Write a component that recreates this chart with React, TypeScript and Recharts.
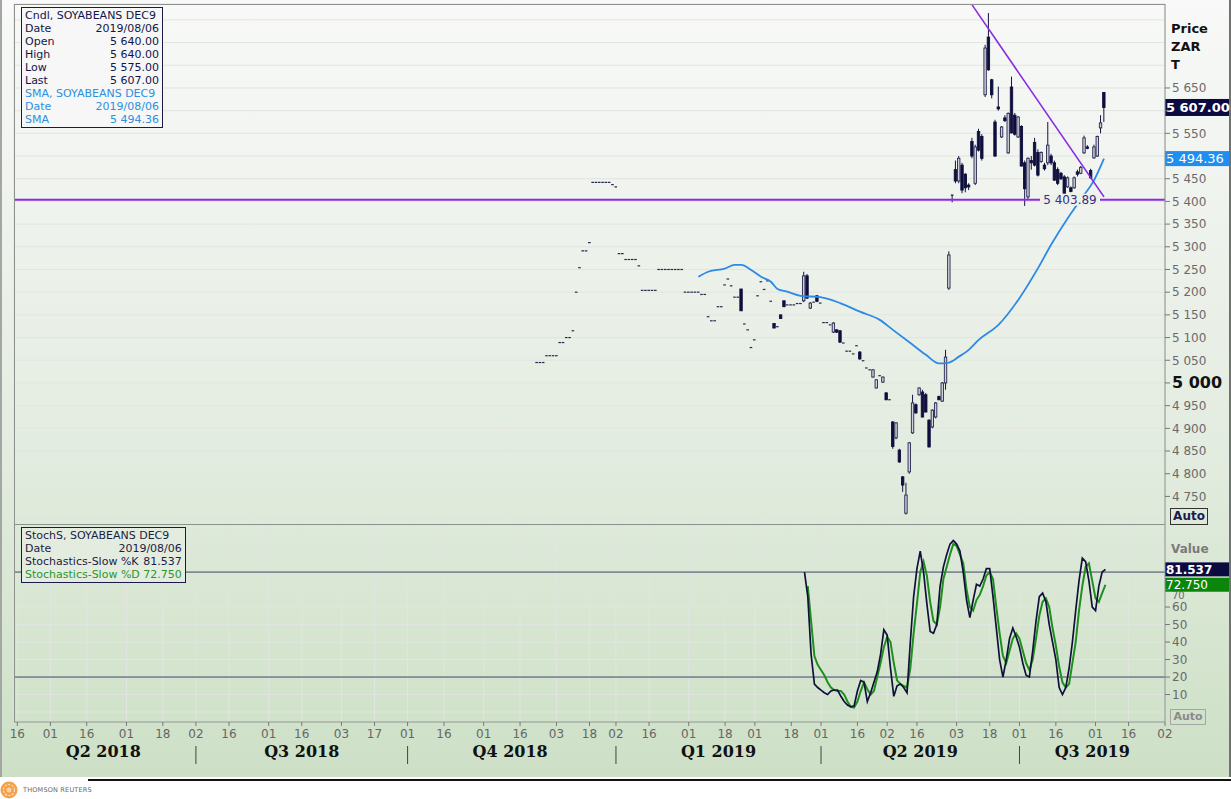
import { ComposedChart, Bar, Line, XAxis, YAxis, CartesianGrid, ReferenceLine } from 'recharts';

// trading calendar (weekdays minus exchange holidays)
const FIRST_DAY = '2018-04-13';
const LAST_DAY = '2019-09-02';
const NON_TRADING = [
  '2018-04-27', '2018-08-09', '2018-12-17', '2018-12-25', '2018-12-26', '2019-01-01',
  '2019-03-21', '2019-04-19', '2019-04-22', '2019-05-01', '2019-05-08', '2019-06-17', '2019-08-09',
];

const DAY_TICKS = [
  '2018-04-16', '2018-05-01', '2018-05-16', '2018-06-01', '2018-06-18',
  '2018-07-02', '2018-07-16', '2018-08-01', '2018-08-16', '2018-09-03', '2018-09-17',
  '2018-10-01', '2018-10-16', '2018-11-01', '2018-11-16', '2018-12-03', '2018-12-18',
  '2019-01-02', '2019-01-16', '2019-02-01', '2019-02-18', '2019-03-01', '2019-03-18',
  '2019-04-01', '2019-04-16', '2019-05-02', '2019-05-16', '2019-06-03', '2019-06-18',
  '2019-07-01', '2019-07-16', '2019-08-01', '2019-08-16', '2019-09-02',
];
const QUARTER_STARTS = ['2018-07-02', '2018-10-01', '2019-01-02', '2019-04-01', '2019-07-01'];
const QUARTER_LABELS = ['Q2 2018', 'Q3 2018', 'Q4 2018', 'Q1 2019', 'Q2 2019', 'Q3 2019'];

const PRICE_TICKS = [4700, 4750, 4800, 4850, 4900, 4950, 5000, 5050, 5100, 5150, 5200, 5250, 5300, 5350, 5400, 5450, 5500, 5550, 5600, 5650, 5700, 5750, 5800];
const STOCH_TICKS = [0, 10, 20, 30, 40, 50, 60, 70, 80, 90, 100];

// candles: one entry per trading day from CANDLE_START.
// a single number = flat day (open = high = low = close), else [open, high, low, close]
const CANDLE_START = '2018-11-23';
type Candle = number | [number, number, number, number];
const candles: Candle[] = [
  5045, 5045, 5045, 5060, 5060, 5060, 5060, 5089, 5089, 5100, // 0
  5100, 5115, 5200, 5254, 5291, 5291, 5309, 5442, 5442, 5442, // 10
  5442, 5442, 5442, 5437, 5432, 5285, 5285, 5272, 5272, 5272, // 20
  5272, 5258, 5204, 5204, 5204, 5204, 5204, 5250, 5250, 5250, // 30
  5250, 5250, 5250, 5250, 5250, 5200, 5200, 5200, 5200, 5200, // 40
  5195, 5195, 5146, 5137, 5137, 5168, 5168, 5216, 5229, 5214, // 50
  5189, 5189, [5207, 5207, 5159, 5159], 5130, 5117, 5078, 5095, 5192, 5223, 5206, // 60
  5225, 5180, [5131, 5131, 5121, 5121], 5124, [5150, 5150, 5142, 5142], [5181, 5181, 5168, 5168], 5172, 5172, 5172, 5175, // 70
  5175, [5181, 5245, 5178, 5236], [5236, 5240, 5185, 5187], [5165, 5178, 5163, 5176], 5178, [5192, 5194, 5178, 5180], 5176, 5133, 5133, 5128, // 80
  [5112, 5134, 5110, 5132], [5117, 5118, 5110, 5112], [5115, 5116, 5088, 5090], 5088, 5070, 5070, 5064, 5082, [5068, 5070, 5051, 5053], 5049, // 90
  5033, 5029, [5013, 5030, 5012, 5029], [4989, 5008, 4988, 5007], 5016, [5002, 5014, 5000, 5013], [4978, 4980, 4962, 4963], 4963, [4914, 4916, 4855, 4860], [4879, 4914, 4876, 4912], // 100
  [4852, 4855, 4824, 4826], [4793, 4795, 4760, 4775], [4713, 4780, 4710, 4753], [4804, 4870, 4800, 4868], [4890, 4974, 4888, 4956], // 110
  [4952, 4955, 4932, 4934], [4974, 4990, 4972, 4989], [4980, 4985, 4924, 4925], [4974, 4978, 4935, 4936], [4918, 4920, 4858, 4859], // 115
  [4903, 4942, 4900, 4940], [4925, 4958, 4922, 4956], [4970, 4972, 4962, 4963], [4960, 5002, 4958, 5000], [5000, 5073, 4985, 5057], // 120
  [5209, 5290, 5205, 5282], [5414, 5414, 5398, 5414], [5470, 5490, 5440, 5445], [5445, 5500, 5440, 5495], [5480, 5485, 5418, 5425], // 125
  [5460, 5462, 5420, 5430], [5436, 5440, 5425, 5432], [5532, 5540, 5495, 5500], [5440, 5525, 5436, 5520], [5554, 5560, 5510, 5513], // 130
  [5543, 5548, 5490, 5495], [5635, 5745, 5630, 5738], [5762, 5815, 5688, 5690], [5668, 5670, 5627, 5635], [5575, 5580, 5498, 5500], // 135
  [5608, 5653, 5600, 5604], [5542, 5566, 5540, 5564], [5584, 5590, 5575, 5578], [5507, 5596, 5505, 5594], [5652, 5675, 5550, 5551], // 140
  [5590, 5595, 5545, 5548], [5542, 5588, 5540, 5586], [5565, 5568, 5477, 5478], [5485, 5490, 5390, 5428], [5410, 5497, 5405, 5495], // 145
  [5490, 5500, 5470, 5485], [5530, 5540, 5477, 5480], [5508, 5515, 5455, 5458], [5488, 5510, 5485, 5508], [5480, 5485, 5468, 5472], // 150
  [5485, 5575, 5480, 5524], [5500, 5505, 5480, 5485], [5485, 5490, 5445, 5447], [5470, 5475, 5436, 5440], [5462, 5465, 5447, 5450], // 155
  [5454, 5458, 5412, 5414], [5432, 5455, 5430, 5452], [5430, 5433, 5420, 5422], [5430, 5455, 5428, 5452], [5465, 5470, 5455, 5460], // 160
  [5462, 5478, 5460, 5475], [5507, 5545, 5505, 5540], [5520, 5524, 5515, 5517], [5468, 5472, 5450, 5452], [5496, 5525, 5494, 5520], // 165
  [5500, 5545, 5498, 5543], [5562, 5590, 5550, 5573], [5640, 5640, 5575, 5607], // 170
];

// SMA: [day offset from CANDLE_START, value]
const smaPoints: [number, number][] = [
  [49, 5234], [52, 5245], [57, 5252], [60, 5260], [62, 5260], [65, 5249], [68, 5234], [71, 5223],
  [73, 5207], [76, 5201], [80, 5192], [86, 5189], [92, 5176], [98, 5157], [104, 5139], [108, 5117],
  [114, 5084], [118, 5062], [122, 5043], [125, 5045], [128, 5058], [131, 5073], [134, 5095],
  [140, 5128], [146, 5183], [152, 5253], [156, 5305], [161, 5363], [165, 5405], [169, 5447], [172, 5494.36],
];

// slow stochastics, one value per day starting at offset STOCH_START
const STOCH_START = 81;
const pctK = [
  80, 66, 33, 16, 14, 12.5, 11, 10, 12, 12.6,
  12.6, 9, 6, 4, 3, 3.5, 12, 18, 17, 6,
  11, 17, 23, 33, 47, 44, 25, 9, 15, 16,
  14, 11, 40, 66, 82, 92, 80, 62, 46, 45,
  50, 72, 83, 90, 96, 98, 96, 92, 80, 64,
  54, 64, 73, 72, 76, 82, 82, 66, 48, 30,
  20, 30, 42, 48, 43, 37, 28, 21, 20, 35,
  52, 66, 68, 63, 50, 40, 30, 14, 10, 14,
  25, 40, 58, 75, 88, 86, 75, 60, 58, 72,
  80, 81.537,
];
const pctD = [
  null, 72, 52, 32, 27, 24, 21, 17, 14, 12.5,
  12, 12, 10, 6, 3, 2.5, 6, 12, 17, 13,
  10, 12, 20, 28, 37, 43, 40, 28, 18, 16,
  15, 14, 25, 45, 62, 80, 86, 78, 63, 52,
  50, 60, 76, 83, 90, 96, 95, 90, 85, 70,
  60, 58, 64, 67, 72, 78, 80, 76, 60, 45,
  32, 28, 35, 42, 45, 42, 35, 28, 24, 30,
  42, 55, 63, 65, 60, 48, 38, 26, 17, 14,
  16, 28, 40, 58, 72, 83, 85, 75, 65, 63,
  68, 72.75,
];

const SUPPORT = 5403.89;
const TREND: [number, number][] = [[132, 5833], [172, 5410]];

const buildDays = () => {
  const out: string[] = [];
  const d = new Date(FIRST_DAY + 'T00:00:00Z');
  const end = new Date(LAST_DAY + 'T00:00:00Z');
  while (d <= end) {
    const wd = d.getUTCDay();
    const s = d.toISOString().slice(0, 10);
    if (wd !== 0 && wd !== 6 && !NON_TRADING.includes(s)) out.push(s);
    d.setUTCDate(d.getUTCDate() + 1);
  }
  return out;
};

const days = buildDays();
const base = days.indexOf(CANDLE_START);
const smaMap = new Map(smaPoints);

const rows = days.map((date, i) => {
  const off = i - base;
  const row: any = { date };
  const c = off >= 0 ? candles[off] : undefined;
  if (c !== undefined) {
    const [o, h, l, cl] = typeof c === 'number' ? [c, c, c, c] : c;
    Object.assign(row, { o, h, l, c: cl, range: [l, h] });
  }
  if (smaMap.has(off)) row.sma = smaMap.get(off);
  const s = off - STOCH_START;
  if (s >= 0 && s < pctK.length) {
    row.k = pctK[s];
    row.d = pctD[s];
  }
  return row;
});

// quarter label sits in the middle of each quarter's visible span
const bounds = [0, ...QUARTER_STARTS.map((q) => days.indexOf(q)), days.length];
const quarterMid: Record<string, string> = {};
QUARTER_LABELS.forEach((lab, i) => {
  quarterMid[days[Math.round((bounds[i] + bounds[i + 1] - 1) / 2)]] = lab;
});
const QUARTER_TICKS = [...QUARTER_STARTS, ...Object.keys(quarterMid)];

const fmtPrice = (v: number) => {
  const [int, dec] = v.toFixed(2).split('.');
  const n = Number(int);
  const s = `${Math.floor(n / 1000)} ${String(n % 1000).padStart(3, '0')}`;
  return { s, dec };
};

const lastRow = rows[base + candles.length - 1];

const CandleShape = (props: any) => {
  const { x, y, width, height, payload } = props;
  if (!payload || payload.o == null || !isFinite(y)) return null;
  const cx = x + width / 2;
  const { o, h, l, c } = payload;
  if (h === l) {
    return <line x1={cx - 1.3} x2={cx + 1.3} y1={y} y2={y} stroke="#2a2a4c" strokeWidth={1.2} />;
  }
  const py = (v: number) => y + ((h - v) / (h - l)) * height;
  const top = py(Math.max(o, c));
  const bot = py(Math.min(o, c));
  const up = c > o;
  return (
    <g>
      <line x1={cx} x2={cx} y1={y} y2={y + height} stroke="#15153f" strokeWidth={1} />
      {bot - top < 1 ? (
        <line x1={cx - 1.3} x2={cx + 1.3} y1={top} y2={top} stroke="#15153f" strokeWidth={1.2} />
      ) : (
        <rect
          x={cx - 1.2}
          y={top}
          width={2.4}
          height={bot - top}
          fill={up ? '#cfd1d8' : '#0f0f3d'}
          stroke={up ? '#25254f' : '#0f0f3d'}
          strokeWidth={0.9}
        />
      )}
    </g>
  );
};

// labels hidden behind the last-value boxes are not drawn
const PriceTick = ({ x, y, payload }: any) => {
  const v = payload.value;
  if (v < 4750 || v > 5650) return null;
  const covered = Math.abs(v - lastRow.c) < 15 || Math.abs(v - lastRow.sma) < 15;
  const big = v === 5000;
  return (
    <g>
      <line x1={x - 7} x2={x - 2} y1={y} y2={y} stroke="#777" />
      {!covered && (
        <text
          x={x}
          y={y}
          dy={big ? 5.5 : 4.3}
          fontSize={big ? 16 : 12}
          fontWeight={big ? 'bold' : 'normal'}
          fill={big ? '#111' : '#6a6a6a'}
          fontFamily="DejaVu Sans"
        >
          {fmtPrice(v).s}
        </text>
      )}
    </g>
  );
};

const StochTick = ({ x, y, payload }: any) => {
  const v = payload.value;
  if (v < 10 || v > 70) return null;
  const squeezed = v === 70;
  return (
    <g>
      <line x1={x - 7} x2={x - 2} y1={y} y2={y} stroke="#777" />
      <text x={x} y={y + (squeezed ? 6 : 0)} dy={squeezed ? 3.6 : 4.3} fontSize={squeezed ? 10 : 12} fill="#6a6a6a" fontFamily="DejaVu Sans">
        {v}
      </text>
    </g>
  );
};

const DayTick = ({ x, y, payload }: any) => (
  <text x={x} y={y} dy="0.75em" textAnchor="middle" fontSize={12} fill="#666" fontFamily="DejaVu Sans">
    {String(payload.value).slice(8, 10)}
  </text>
);

const QuarterTick = ({ x, y, payload }: any) => {
  const v = payload.value;
  if (QUARTER_STARTS.includes(v)) {
    return <line x1={x} x2={x} y1={y + 2} y2={y + 20} stroke="#444" strokeWidth={1} />;
  }
  return (
    <text x={x} y={y + 13} textAnchor="middle" fontSize={16} fontWeight="bold" fill="#111" fontFamily="DejaVu Serif">
      {quarterMid[v]}
    </text>
  );
};

const AxisBox = ({ viewBox, text, bg, bold, h, fs }: any) => {
  if (!viewBox) return null;
  const x0 = viewBox.x + viewBox.width;
  return (
    <g>
      <rect x={x0} y={viewBox.y - h / 2} width={64} height={h} fill={bg} />
      <text
        x={x0 + 1}
        y={viewBox.y + fs * 0.37}
        fill="#fff"
        fontSize={fs}
        fontWeight={bold ? 'bold' : 'normal'}
        fontFamily="DejaVu Sans"
      >
        {text}
      </text>
    </g>
  );
};

const SupportLabel = ({ viewBox }: any) => {
  if (!viewBox) return null;
  const right = viewBox.x + viewBox.width;
  const p = fmtPrice(SUPPORT);
  return (
    <g>
      <rect x={right - 125} y={viewBox.y - 6} width={60} height={12} fill="#edf1ea" />
      <text x={right - 95} y={viewBox.y + 4.5} textAnchor="middle" fontSize={12} fill="#3a2d8c" fontFamily="DejaVu Sans">
        {`${p.s}.${p.dec}`}
      </text>
    </g>
  );
};

const GRID = '#e1e5df';
const FRAME = '#8c918c';

const legendRow = (label: string, value: string, color: string) => (
  <div key={label + value} style={{ display: 'flex', justifyContent: 'space-between', color }}>
    <span>{label}</span>
    <span>{value}</span>
  </div>
);

export default function App() {
  const lastClose = fmtPrice(lastRow.c);
  const lastSma = fmtPrice(lastRow.sma);
  return (
    <div style={{ position: 'relative', width: 1231, height: 799, background: '#fff', overflow: 'hidden', fontFamily: 'DejaVu Sans' }}>
      <style>{'body{margin:0}'}</style>
      {/* frame background */}
      <div
        style={{
          position: 'absolute',
          left: 0,
          top: 0,
          width: 1227,
          height: 777,
          borderLeft: '2px solid #a3a7a3',
          borderRight: '2px solid #6f726f',
          background: 'linear-gradient(to bottom, #f8f9f8 0%, #eef2ec 30%, #e3ece0 58%, #d8e6d2 78%, #cde0c6 100%)',
        }}
      />
      <div style={{ position: 'absolute', left: 88, top: 779, width: 1143, height: 2, background: '#111' }} />

      {/* price panel */}
      <div style={{ position: 'absolute', left: 0, top: 0 }}>
        <ComposedChart width={1231} height={526} data={rows} margin={{ top: 4, right: 0, bottom: 1, left: 14 }} barCategoryGap={0} barGap={0}>
          <CartesianGrid stroke={GRID} />
          <XAxis dataKey="date" ticks={DAY_TICKS} interval={0} height={0} tick={false} axisLine={false} tickLine={false} />
          <YAxis
            orientation="right"
            width={66}
            domain={[4687, 5835]}
            allowDataOverflow
            ticks={PRICE_TICKS}
            interval={0}
            tick={<PriceTick />}
            tickLine={false}
            tickSize={5}
            tickMargin={2}
            axisLine={{ stroke: FRAME }}
          />
          <Bar dataKey="range" shape={<CandleShape />} isAnimationActive={false} />
          <Line dataKey="sma" type="monotone" connectNulls dot={false} stroke="#2a8ae6" strokeWidth={1.8} isAnimationActive={false} />
          <ReferenceLine y={SUPPORT} stroke="#8a2be2" strokeWidth={2} label={<SupportLabel />} />
          <ReferenceLine
            segment={TREND.map(([off, y]) => ({ x: days[base + off], y }))}
            stroke="#8a2be2"
            strokeWidth={1.6}
          />
          <ReferenceLine y={lastRow.sma} stroke="none" label={<AxisBox text={`${lastSma.s}.${lastSma.dec}`} bg="#1e8ff0" h={15} fs={13} />} />
          <ReferenceLine y={lastRow.c} stroke="none" label={<AxisBox text={`${lastClose.s}.${lastClose.dec}`} bg="#0b0b40" bold h={17} fs={13} />} />
        </ComposedChart>
      </div>

      {/* stochastics panel with date axis */}
      <div style={{ position: 'absolute', left: 0, top: 525 }}>
        <ComposedChart width={1231} height={254} data={rows} margin={{ top: 0, right: 0, bottom: 0, left: 14 }}>
          <CartesianGrid stroke={GRID} xAxisId="day" />
          <XAxis
            xAxisId="day"
            dataKey="date"
            ticks={DAY_TICKS}
            interval={0}
            height={22}
            tick={<DayTick />}
            tickSize={4}
            tickMargin={3}
            tickLine={{ stroke: '#777' }}
            axisLine={{ stroke: FRAME }}
          />
          <XAxis
            xAxisId="q"
            dataKey="date"
            ticks={QUARTER_TICKS}
            interval={0}
            height={35}
            tick={<QuarterTick />}
            tickSize={0}
            tickMargin={0}
            tickLine={false}
            axisLine={false}
          />
          <YAxis
            orientation="right"
            width={66}
            domain={[-5.7, 106.9]}
            allowDataOverflow
            ticks={STOCH_TICKS}
            interval={0}
            tick={<StochTick />}
            tickLine={false}
            tickSize={5}
            tickMargin={2}
            axisLine={{ stroke: FRAME }}
          />
          <ReferenceLine xAxisId="day" y={80} stroke="#3b4466" strokeWidth={1} />
          <ReferenceLine xAxisId="day" y={20} stroke="#3b4466" strokeWidth={1} />
          <Line xAxisId="q" dataKey="d" dot={false} stroke="#1f8f1f" strokeWidth={2} isAnimationActive={false} />
          <Line xAxisId="day" dataKey="k" dot={false} stroke="#10103a" strokeWidth={1.7} isAnimationActive={false} />
          <ReferenceLine xAxisId="day" y={lastRow.d} stroke="none" label={<AxisBox text={lastRow.d.toFixed(3)} bg="#0a870a" h={14} fs={12} />} />
          <ReferenceLine xAxisId="day" y={lastRow.k} stroke="none" label={<AxisBox text={lastRow.k.toFixed(3)} bg="#0b0b40" bold h={14} fs={12} />} />
        </ComposedChart>
      </div>

      {/* panel borders */}
      <div style={{ position: 'absolute', left: 14, top: 4, width: 1151, height: 521, border: `1px solid ${FRAME}`, borderRight: 'none', boxSizing: 'border-box', pointerEvents: 'none' }} />
      <div style={{ position: 'absolute', left: 14, top: 525, width: 1, height: 197, background: FRAME }} />

      {/* price legend */}
      <div
        style={{
          position: 'absolute',
          left: 21,
          top: 7,
          width: 134,
          padding: '1px 3px',
          border: '1px solid #1a1a4a',
          background: '#f6f7f6',
          fontSize: 11,
          lineHeight: '13px',
        }}
      >
        {legendRow('Cndl, SOYABEANS DEC9', '', '#15154a')}
        {legendRow('Date', '2019/08/06', '#15154a')}
        {legendRow('Open', '5 640.00', '#15154a')}
        {legendRow('High', '5 640.00', '#15154a')}
        {legendRow('Low', '5 575.00', '#15154a')}
        {legendRow('Last', '5 607.00', '#15154a')}
        {legendRow('SMA, SOYABEANS DEC9', '', '#2e8fe0')}
        {legendRow('Date', '2019/08/06', '#2e8fe0')}
        {legendRow('SMA', '5 494.36', '#2e8fe0')}
      </div>

      {/* stochastics legend */}
      <div
        style={{
          position: 'absolute',
          left: 21,
          top: 527,
          padding: '1px 3px',
          border: '1px solid #1a1a4a',
          background: '#e4ece0',
          fontSize: 11,
          lineHeight: '13px',
          whiteSpace: 'nowrap',
        }}
      >
        {legendRow('StochS, SOYABEANS DEC9', '', '#1d1d3e')}
        {legendRow('Date', '2019/08/06', '#1d1d3e')}
        {legendRow('Stochastics-Slow %K', '\u00a081.537', '#1d1d3e')}
        {legendRow('Stochastics-Slow %D', '\u00a072.750', '#2a962a')}
      </div>

      {/* axis headers */}
      <div style={{ position: 'absolute', left: 1171, top: 20, fontSize: 13, fontWeight: 'bold', lineHeight: '18px', color: '#111' }}>
        Price<br />ZAR<br />T
      </div>
      <div style={{ position: 'absolute', left: 1171, top: 542, fontSize: 12, fontWeight: 'bold', color: '#7a7a7a' }}>Value</div>
      <div
        style={{
          position: 'absolute',
          left: 1170,
          top: 508,
          width: 36,
          height: 15,
          border: '1px solid #333',
          fontSize: 12,
          fontWeight: 'bold',
          color: '#1b1b50',
          lineHeight: '15px',
          textAlign: 'center',
        }}
      >
        Auto
      </div>
      <div
        style={{
          position: 'absolute',
          left: 1170,
          top: 709,
          width: 34,
          height: 14,
          border: '1px solid #a5a5a5',
          fontSize: 11,
          fontWeight: 'bold',
          color: '#8a8a8a',
          lineHeight: '14px',
          textAlign: 'center',
        }}
      >
        Auto
      </div>

      {/* footer logo */}
      <svg style={{ position: 'absolute', left: 0, top: 781 }} width={20} height={18}>
        <circle cx={9} cy={9} r={8.5} fill="#f5a04a" />
        <circle cx={9} cy={9} r={5.5} fill="none" stroke="#fde3c4" strokeWidth={1.2} strokeDasharray="2 1.5" />
        <circle cx={9} cy={9} r={2.5} fill="#fbd2a3" />
      </svg>
      <div style={{ position: 'absolute', left: 23, top: 786, fontSize: 6.5, color: '#666', letterSpacing: 0.2 }}>THOMSON REUTERS</div>
    </div>
  );
}
